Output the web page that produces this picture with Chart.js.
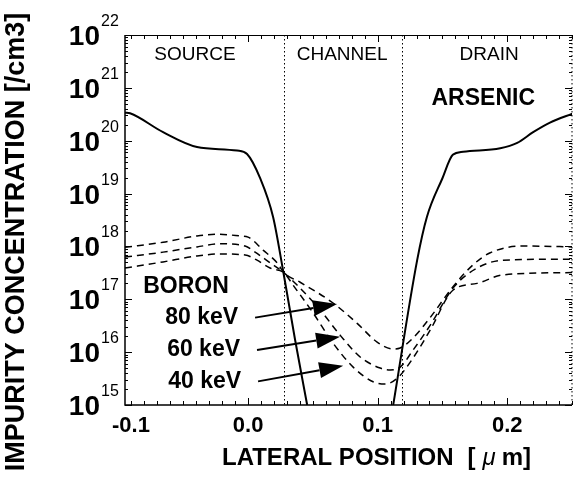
<!DOCTYPE html>
<html>
<head>
<meta charset="utf-8">
<script src="https://cdn.jsdelivr.net/npm/chart.js@4.4.0/dist/chart.umd.min.js"></script>
<style>
html, body { margin: 0; padding: 0; background: #fff; }
</style>
</head>
<body>
<canvas id="profileChart" width="574" height="485"></canvas>
<script>
// lateral position [um] and concentration [/cm3]
var arsenicX = [-0.095, -0.0911, -0.0656, -0.0394, -0.0085, -0.0008, 0.0093, 0.0193, 0.027, 0.0363, 0.0456, 0.08,
	0.112, 0.1305, 0.138, 0.150, 0.158, 0.166, 0.1946, 0.2077, 0.220, 0.233, 0.251];
var arsenicY = [3.4e20, 3.3e20, 1.45e20, 7.6e19, 6.5e19, 5.6e19, 1.95e19, 3.6e18, 3.5e17, 1.7e16, 1.0e15, null,
	1.0e15, 5.5e17, 3.6e18, 1.95e19, 5.4e19, 6.2e19, 7.2e19, 9.1e19, 1.45e20, 2.2e20, 3.3e20];

var boron80X = [-0.095, -0.0656, -0.0394, -0.0239, -0.0062, 0.0, 0.0116, 0.0224, 0.0278, 0.0402, 0.0656, 0.0842,
	0.0996, 0.112, 0.1174, 0.1274, 0.1405, 0.1583, 0.1737, 0.1869, 0.2124, 0.25];
var boron80Y = [9.6e17, 1.2e18, 1.58e18, 1.7e18, 1.58e18, 1.5e18, 8.5e17, 4.9e17, 3.16e17, 2.1e17, 8.5e16, 3.5e16,
	1.55e16, 1.15e16, 1.2e16, 1.86e16, 4.5e16, 1.75e17, 4.5e17, 7.6e17, 1.02e18, 9.8e17];

var boron60X = [-0.095, -0.0656, -0.0394, -0.0216, -0.0023, 0.0054, 0.0170, 0.0278, 0.0378, 0.0556, 0.0710, 0.0865,
	0.1019, 0.1097, 0.1174, 0.1274, 0.1405, 0.1583, 0.1768, 0.1969, 0.25];
var boron60Y = [6.3e17, 7.8e17, 9.8e17, 1.12e18, 1.02e18, 7.8e17, 4.9e17, 3.16e17, 1.86e17, 6.3e16, 2.1e16, 8.1e15,
	5.0e15, 4.6e15, 5.2e15, 1.1e16, 3.2e16, 1.65e17, 3.9e17, 5.5e17, 5.75e17];

var boron40X = [-0.095, -0.0656, -0.0394, -0.0216, -0.0023, 0.0069, 0.0170, 0.0278, 0.0347, 0.0502, 0.0656, 0.0811,
	0.0965, 0.1058, 0.1151, 0.1274, 0.1405, 0.1583, 0.1768, 0.1969, 0.25];
var boron40Y = [3.9e17, 5.1e17, 6.6e17, 7.2e17, 6.9e17, 5.5e17, 3.9e17, 3.16e17, 1.86e17, 5.5e16, 1.48e16, 5.2e15,
	2.75e15, 2.5e15, 3.2e15, 7.8e15, 2.6e16, 1.5e17, 2.0e17, 2.9e17, 3.2e17];

// axis ticks
var xTickValues = [-0.1, 0.0, 0.1, 0.2];
var xTickLabels = ['-0.1', '0.0', '0.1', '0.2'];
var yTickExps = ['15', '16', '17', '18', '19', '20', '21', '22'];

// annotations
var regionNames = ['SOURCE', 'CHANNEL', 'DRAIN'];
var regionX = [-0.041, 0.0726, 0.186];
var regionY = 4.2e21;
var dividerX = [0.028, 0.119];
var energyLabels = ['80 keV', '60 keV', '40 keV'];
var arrowFromX = [0.0054, 0.0069, 0.0077];
var arrowFromY = [4.5e16, 1.1e16, 2.8e15];
var arrowToX = [0.0687, 0.0710, 0.0734];
var arrowToY = [8.1e16, 1.95e16, 5.5e15];

var FONT = '"Liberation Sans", Arial, Helvetica, sans-serif';

function pts(xs, ys) {
	var out = [];
	for (var i = 0; i < xs.length; i++) {
		out.push({ x : xs[i], y : ys[i] });
	}
	return out;
}

function boronSet(xs, ys) {
	return {
		data : pts(xs, ys),
		showLine : true,
		borderColor : '#000',
		borderWidth : 1.5,
		borderDash : [ 7, 5 ],
		pointRadius : 0,
		cubicInterpolationMode : 'monotone',
		spanGaps : false
	};
}

var inkPlugin = {
	id : 'ink',
	beforeDatasetsDraw : function(chart) {
		var ctx = chart.ctx, a = chart.chartArea, xs = chart.scales.x;
		ctx.save();
		ctx.strokeStyle = '#000';
		ctx.lineWidth = 1;
		ctx.setLineDash([ 1.5, 2.5 ]);
		for (var i = 0; i < dividerX.length; i++) {
			var px = Math.round(xs.getPixelForValue(dividerX[i])) + 0.5;
			ctx.beginPath();
			ctx.moveTo(px, a.top);
			ctx.lineTo(px, a.bottom);
			ctx.stroke();
		}
		ctx.beginPath();
		ctx.moveTo(a.right, a.top);
		ctx.lineTo(a.right, a.bottom);
		ctx.stroke();
		ctx.restore();
	},
	afterDraw : function(chart) {
		var ctx = chart.ctx, a = chart.chartArea, xs = chart.scales.x, ys = chart.scales.y;
		var i, m, v, px, py;
		ctx.save();
		ctx.fillStyle = '#000';
		ctx.strokeStyle = '#000';

		// frame
		ctx.lineWidth = 1.5;
		ctx.beginPath();
		ctx.moveTo(a.left, a.top);
		ctx.lineTo(a.left, a.bottom);
		ctx.lineTo(a.right, a.bottom);
		ctx.stroke();
		ctx.lineWidth = 1;
		ctx.beginPath();
		ctx.moveTo(a.left, a.top + 0.5);
		ctx.lineTo(a.right, a.top + 0.5);
		ctx.stroke();

		// inward ticks
		ctx.beginPath();
		for (i = 15; i <= 22; i++) {
			py = Math.round(ys.getPixelForValue(Math.pow(10, i))) + 0.5;
			ctx.moveTo(a.left, py); ctx.lineTo(a.left + 7, py);
			ctx.moveTo(a.right, py); ctx.lineTo(a.right - 7, py);
			if (i < 22) {
				for (m = 2; m <= 9; m++) {
					py = Math.round(ys.getPixelForValue(m * Math.pow(10, i))) + 0.5;
					ctx.moveTo(a.left, py); ctx.lineTo(a.left + 3, py);
					ctx.moveTo(a.right, py); ctx.lineTo(a.right - 3, py);
				}
			}
		}
		for (i = -9; i <= 25; i++) {
			v = i / 100;
			px = Math.round(xs.getPixelForValue(v)) + 0.5;
			var len = (i % 10 === 0) ? 7 : 4;
			ctx.moveTo(px, a.bottom); ctx.lineTo(px, a.bottom - len);
			ctx.moveTo(px, a.top); ctx.lineTo(px, a.top + len);
		}
		ctx.stroke();

		// y tick labels 10^n
		ctx.textBaseline = 'alphabetic';
		for (i = 0; i < yTickExps.length; i++) {
			py = ys.getPixelForValue(Math.pow(10, Number(yTickExps[i])));
			ctx.font = 'bold 28px ' + FONT;
			ctx.textAlign = 'right';
			ctx.fillText('10', 100, py + 10);
			ctx.font = '16px ' + FONT;
			ctx.textAlign = 'left';
			ctx.fillText(yTickExps[i], 101, py - 9);
		}

		// x tick labels
		ctx.font = 'bold 22px ' + FONT;
		ctx.textAlign = 'center';
		for (i = 0; i < xTickValues.length; i++) {
			px = Math.max(xs.getPixelForValue(xTickValues[i]), a.left + 6);
			ctx.fillText(xTickLabels[i], px, a.bottom + 27);
		}

		// axis titles
		ctx.save();
		ctx.translate(17, 242);
		ctx.rotate(-Math.PI / 2);
		ctx.font = 'bold 27px ' + FONT;
		ctx.textAlign = 'center';
		ctx.textBaseline = 'middle';
		ctx.fillText('IMPURITY CONCENTRATION [/cm3]', 0, 0);
		ctx.restore();

		ctx.textAlign = 'left';
		var tx = 222, ty = 465;
		ctx.font = 'bold 24px ' + FONT;
		ctx.fillText('LATERAL POSITION', tx, ty);
		tx += ctx.measureText('LATERAL POSITION').width + 14;
		ctx.fillText('[', tx, ty);
		tx += ctx.measureText('[').width + 7;
		ctx.font = 'italic 24px ' + FONT;
		ctx.fillText('\u03bc', tx, ty);
		tx += ctx.measureText('\u03bc').width + 6;
		ctx.font = 'bold 24px ' + FONT;
		ctx.fillText('m]', tx, ty);

		// region names
		ctx.font = '19px ' + FONT;
		ctx.textAlign = 'center';
		ctx.textBaseline = 'middle';
		for (i = 0; i < regionNames.length; i++) {
			ctx.fillText(regionNames[i], xs.getPixelForValue(regionX[i]), ys.getPixelForValue(regionY));
		}

		// species labels
		ctx.font = 'bold 23px ' + FONT;
		ctx.fillText('ARSENIC', xs.getPixelForValue(0.1815), ys.getPixelForValue(6.2e20));
		ctx.textAlign = 'left';
		ctx.fillText('BORON', xs.getPixelForValue(-0.081), ys.getPixelForValue(1.7e17));

		// energy labels with arrows
		for (i = 0; i < energyLabels.length; i++) {
			var x0 = xs.getPixelForValue(arrowFromX[i]), y0 = ys.getPixelForValue(arrowFromY[i]);
			var x1 = xs.getPixelForValue(arrowToX[i]), y1 = ys.getPixelForValue(arrowToY[i]);
			ctx.textAlign = 'right';
			ctx.fillText(energyLabels[i], x0 - 17, y0);
			var ang = Math.atan2(y1 - y0, x1 - x0);
			var hl = 24, hw = 8;
			var bx = x1 - hl * Math.cos(ang), by = y1 - hl * Math.sin(ang);
			ctx.lineWidth = 2;
			ctx.beginPath();
			ctx.moveTo(x0, y0);
			ctx.lineTo(bx, by);
			ctx.stroke();
			ctx.beginPath();
			ctx.moveTo(x1, y1);
			ctx.lineTo(bx + hw * Math.sin(ang), by - hw * Math.cos(ang));
			ctx.lineTo(bx - hw * Math.sin(ang), by + hw * Math.cos(ang));
			ctx.closePath();
			ctx.fill();
		}
		ctx.restore();
	}
};

var ctx = document.getElementById('profileChart').getContext('2d');
var profileChart = new Chart(ctx, {
	type : 'scatter',
	data : {
		datasets : [ {
			data : pts(arsenicX, arsenicY),
			showLine : true,
			borderColor : '#000',
			borderWidth : 2,
			pointRadius : 0,
			cubicInterpolationMode : 'monotone',
			spanGaps : false
		}, boronSet(boron80X, boron80Y), boronSet(boron60X, boron60Y), boronSet(boron40X, boron40Y) ]
	},
	options : {
		responsive : false,
		animation : false,
		devicePixelRatio : 1,
		layout : {
			padding : { left : 125, right : 2, top : 35, bottom : 80 }
		},
		plugins : {
			legend : { display : false },
			tooltip : { enabled : false }
		},
		scales : {
			x : { type : 'linear', min : -0.095, max : 0.25, display : false },
			y : { type : 'logarithmic', min : 1e15, max : 1e22, display : false }
		}
	},
	plugins : [ inkPlugin ]
});
</script>
</body>
</html>
